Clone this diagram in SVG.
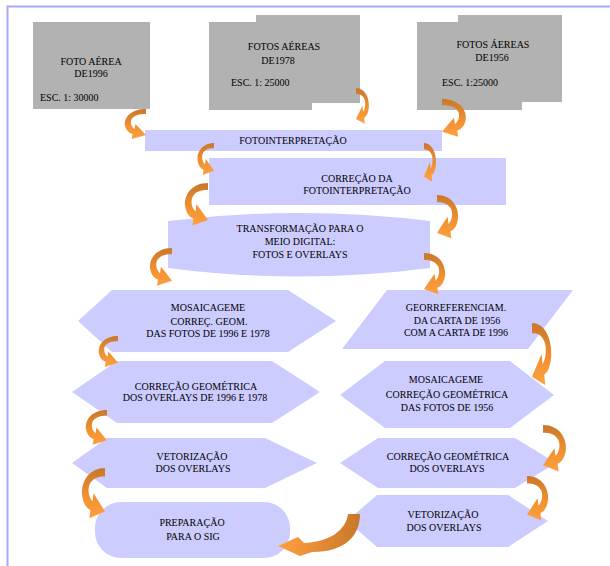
<svg xmlns="http://www.w3.org/2000/svg" xmlns:xlink="http://www.w3.org/1999/xlink" width="610" height="566" viewBox="0 0 610 566">
<style>
text{font-family:"Liberation Serif","DejaVu Serif",serif;font-size:10px;fill:#000;text-anchor:middle}
.st{text-anchor:start}
.g{fill:#B2B2B2}
.b{fill:#CCCCFF}
</style>
<defs>
<linearGradient id="og" x1="0" y1="0" x2="0" y2="1">
<stop offset="0" stop-color="#C8772A"/>
<stop offset="0.55" stop-color="#F0902F"/>
<stop offset="1" stop-color="#FFA040"/>
</linearGradient>
<linearGradient id="og2" x1="1" y1="0" x2="0" y2="0">
<stop offset="0" stop-color="#C8772A"/>
<stop offset="1" stop-color="#FFA040"/>
</linearGradient>
<path id="arr" fill="url(#og)" d="M24,0 C9,0 1,8 2,16 C3,21 6,24 10,25 L9,30 L24,26 L13,15 L12,20 C9,18 7,14 9,10 C12,6 17,5 24,5 Z"/>
</defs>
<rect width="610" height="566" fill="#fff"/>
<path d="M7.5,566 V6.5 H610" fill="none" stroke="#A8A8FF" stroke-width="2"/>

<g id="foto1996">
<rect class="g" x="33" y="22" width="117" height="87"/>
<text x="91" y="65">FOTO AÉREA</text>
<text x="91" y="77">DE1996</text>
<text class="st" x="40" y="101">ESC. 1: 30000</text>
</g>
<g id="fotos1978">
<rect class="g" x="256" y="15" width="104" height="88"/>
<rect class="g" x="209" y="22" width="103" height="88"/>
<text x="284" y="50">FOTOS AÉREAS</text>
<text x="278" y="64">DE1978</text>
<text class="st" x="231" y="86">ESC. 1: 25000</text>
</g>
<g id="fotos1956">
<rect class="g" x="458" y="15" width="104" height="87"/>
<rect class="g" x="417" y="22" width="105" height="88"/>
<text x="493" y="48">FOTOS ÁEREAS</text>
<text x="492" y="61">DE1956</text>
<text class="st" x="442" y="86">ESC. 1:25000</text>
</g>
<g id="fotointerpretacao">
<rect class="b" x="145" y="130" width="297" height="21"/>
<text x="293" y="144">FOTOINTERPRETAÇÃO</text>
</g>
<g id="correcao-fotointerpretacao">
<rect class="b" x="209" y="158" width="297" height="47"/>
<text x="357" y="182">CORREÇÃO DA</text>
<text x="357" y="194">FOTOINTERPRETAÇÃO</text>
</g>
<g id="transformacao">
<path class="b" d="M168,221 Q299,205 430,221 L430,268 Q299,285 168,268 Z"/>
<text x="300" y="232">TRANSFORMAÇÃO PARA O</text>
<text x="300" y="245">MEIO DIGITAL:</text>
<text x="300" y="258">FOTOS  E OVERLAYS</text>
</g>
<g id="mosaicagem-1996-1978">
<polygon class="b" points="78,321 112,290 288,290 336,321 288,352 112,352"/>
<text x="208" y="311">MOSAICAGEME</text>
<text x="209" y="325">CORREÇ. GEOM.</text>
<text x="208" y="337">DAS FOTOS DE 1996 E 1978</text>
</g>
<g id="georreferenciamento">
<polygon class="b" points="387,290 573,290 528,349 342,349"/>
<text x="456" y="311">GEORREFERENCIAM.</text>
<text x="457" y="324">DA CARTA DE 1956</text>
<text x="456" y="336">COM A CARTA DE 1996</text>
</g>
<g id="correcao-overlays-1996-1978">
<polygon class="b" points="72,392 117,361 272,361 320,392 272,423 117,423"/>
<text x="196" y="390">CORREÇÃO GEOMÉTRICA</text>
<text x="195" y="401">DOS OVERLAYS DE 1996 E 1978</text>
</g>
<g id="mosaicagem-1956">
<polygon class="b" points="340,395 385,361 510,361 554,395 510,428 385,428"/>
<text x="446" y="383">MOSAICAGEME</text>
<text x="447" y="398">CORREÇÃO GEOMÉTRICA</text>
<text x="447" y="411">DAS FOTOS DE 1956</text>
</g>
<g id="vetorizacao-1">
<polygon class="b" points="72,463 107,438 265,438 317,463 265,488 107,488"/>
<text x="192" y="460">VETORIZAÇÃO</text>
<text x="193" y="472">DOS OVERLAYS</text>
</g>
<g id="correcao-overlays-1956">
<polygon class="b" points="340,463 378,438 515,438 556,463 515,488 378,488"/>
<text x="448" y="460">CORREÇÃO GEOMÉTRICA</text>
<text x="447" y="472">DOS OVERLAYS</text>
</g>
<g id="preparacao-sig">
<rect class="b" x="95" y="502" width="195" height="56" rx="26" ry="26"/>
<text x="192" y="526">PREPARAÇÃO</text>
<text x="193" y="540">PARA O SIG</text>
</g>
<g id="vetorizacao-2">
<polygon class="b" points="347,521 377,495 508,495 548,521 508,547 377,547"/>
<text x="443" y="518">VETORIZAÇÃO</text>
<text x="444" y="531">DOS OVERLAYS</text>
</g>

<g id="connectors">
<use xlink:href="#arr" transform="translate(123,109) scale(0.958,1)"/>
<use xlink:href="#arr" transform="translate(370,88) scale(-0.583,1.19)"/>
<use xlink:href="#arr" transform="translate(468,99) scale(-1.083,1.258)"/>
<use xlink:href="#arr" transform="translate(196,143) scale(0.75,1.065)"/>
<use xlink:href="#arr" transform="translate(437,143) scale(-0.542,1.29)"/>
<use xlink:href="#arr" transform="translate(183,183) scale(1.042,1.419)"/>
<use xlink:href="#arr" transform="translate(460,195) scale(-0.958,1.452)"/>
<use xlink:href="#arr" transform="translate(148,248) scale(1,1.258)"/>
<use xlink:href="#arr" transform="translate(447,253) scale(-0.958,1.387)"/>
<use xlink:href="#arr" transform="translate(97,336) scale(0.875,1.032)"/>
<use xlink:href="#arr" transform="translate(553,323) scale(-0.875,2.065)"/>
<use xlink:href="#arr" transform="translate(84,410) scale(0.958,1.161)"/>
<use xlink:href="#arr" transform="translate(568,425) scale(-1.042,1.548)"/>
<use xlink:href="#arr" transform="translate(80,468) scale(1.042,1.677)"/>
<use xlink:href="#arr" transform="translate(550,476) scale(-0.958,1.484)"/>
<path fill="url(#og2)" d="M348,514 L360,514 C360,536 345,552 312,552 L300,556 L278,546 L298,537 L304,543 C330,542 346,530 348,514 Z"/>
</g>
</svg>
